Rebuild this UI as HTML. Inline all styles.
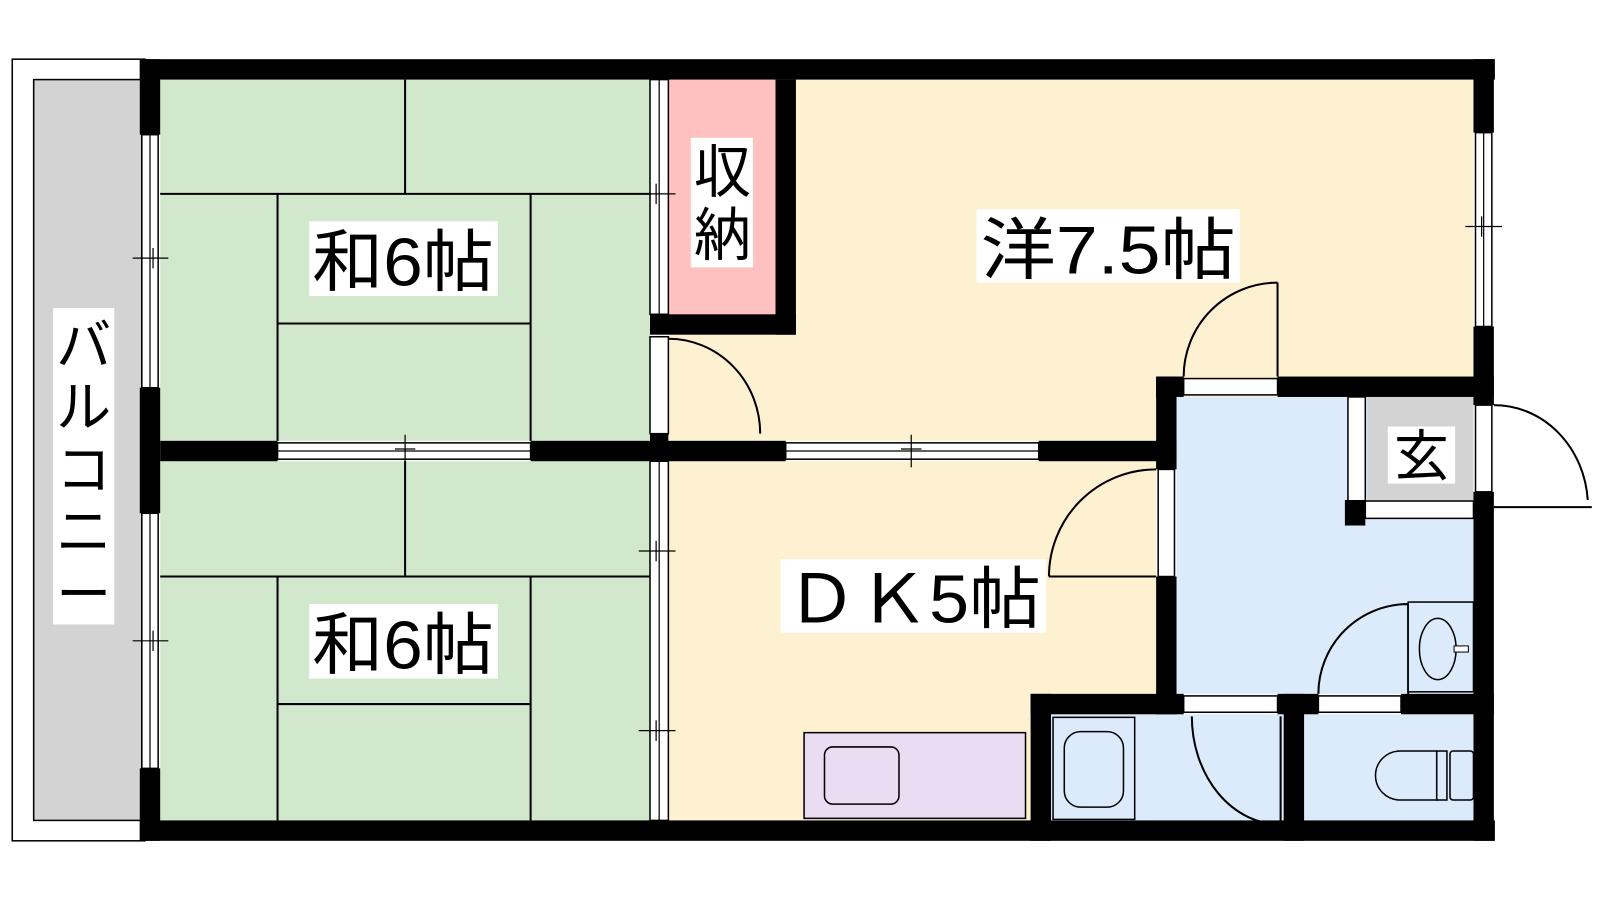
<!DOCTYPE html>
<html><head><meta charset="utf-8"><style>
html,body{margin:0;padding:0;background:#fff;}
svg{display:block;}
text{font-family:"Liberation Sans","Noto Sans CJK JP",sans-serif;fill:#000;}
</style></head><body>
<svg width="1600" height="900" viewBox="0 0 1568 882" preserveAspectRatio="none" xmlns="http://www.w3.org/2000/svg">
<!-- balcony -->
<rect x="12" y="58" width="130" height="766" fill="#fff" stroke="#000" stroke-width="1.5"/>
<rect x="33" y="78" width="106" height="726" fill="#d3d3d3" stroke="#000" stroke-width="1.5"/>
<!-- rooms -->
<rect x="157" y="78" width="480" height="354" fill="#d2e8cc"/>
<rect x="157" y="452" width="480" height="352" fill="#d2e8cc"/>
<rect x="655" y="78" width="105" height="230" fill="#ffc0c0"/>
<rect x="655" y="328" width="789" height="104" fill="#fdf1d2"/>
<rect x="780" y="78" width="664" height="291" fill="#fdf1d2"/>
<rect x="655" y="452" width="478" height="352" fill="#fdf1d2"/>
<rect x="1153" y="389" width="291" height="291" fill="#dbebfc"/>
<rect x="1030" y="700" width="228" height="104" fill="#dbebfc"/>
<rect x="1278" y="700" width="166" height="104" fill="#dbebfc"/>
<rect x="1340" y="389" width="104" height="102" fill="#d3d3d3"/>
<g fill="#fff" stroke="#000" stroke-width="1.5">
<rect x="1321" y="389" width="17" height="104"/>
<rect x="1338" y="491" width="106" height="17"/>
</g>
<!-- tatami lines -->
<g stroke="#000" stroke-width="2" fill="none">
<path d="M157 190H637M397 78V190M272 190V432M520 190V432M272 317H520"/>
<path d="M157 565H637M397 452V565M272 565V804M520 565V804M272 690H520"/>
</g>
<!-- walls -->
<g fill="#000">
<rect x="137" y="58" width="1328" height="20"/>
<rect x="137" y="804" width="1328" height="20"/>
<rect x="137" y="58" width="20" height="74"/>
<rect x="137" y="380" width="20" height="123"/>
<rect x="137" y="753" width="20" height="71"/>
<rect x="1444" y="58" width="20" height="72"/>
<rect x="1444" y="320" width="20" height="77"/>
<rect x="1444" y="482" width="20" height="342"/>
<rect x="157" y="432" width="115" height="20"/>
<rect x="520" y="432" width="250" height="20"/>
<rect x="1018" y="432" width="135" height="20"/>
<rect x="760" y="78" width="20" height="250"/>
<rect x="637" y="308" width="143" height="20"/>
<rect x="637" y="425" width="18" height="27"/>
<rect x="1133" y="369" width="20" height="91"/>
<rect x="1133" y="565" width="20" height="135"/>
<rect x="1133" y="369" width="27" height="20"/>
<rect x="1252" y="369" width="212" height="20"/>
<rect x="1010" y="680" width="150" height="20"/>
<rect x="1252" y="680" width="40" height="20"/>
<rect x="1373" y="680" width="91" height="20"/>
<rect x="1010" y="680" width="20" height="144"/>
<rect x="1258" y="680" width="20" height="144"/>
<rect x="1318" y="490" width="20" height="25"/>
</g>
<!-- windows / sliding -->
<g fill="#fff" stroke="#000" stroke-width="1.5">
<rect x="139" y="132" width="16" height="248"/>
<rect x="139" y="503" width="16" height="250"/>
<rect x="1446" y="130" width="16" height="190"/>
<rect x="1446" y="397" width="16" height="85"/>
<rect x="272" y="434" width="248" height="16"/>
<rect x="770" y="434" width="248" height="16"/>
<rect x="637" y="78" width="18" height="230"/>
<rect x="637" y="452" width="18" height="352"/>
<rect x="637" y="330" width="18" height="95"/>
<rect x="1160" y="371" width="92" height="16"/>
<rect x="1135" y="460" width="16" height="105"/>
<rect x="1160" y="682" width="92" height="16"/>
<rect x="1292" y="682" width="81" height="16"/>
</g>
<g stroke="#000" stroke-width="1.2" fill="none">
<path d="M147 132V380M147 503V753M1454 130V320M272 442H520M770 442H1018M646 78V308M646 452V804"/>
<path d="M130 253H165M150 243V263M130 628H165M150 618V638M1436 222H1472M1452 212V232"/>
<path d="M397 426V458M387 440H407M893 426V458M883 440H903M626 190H662M643 180V200M626 540H662M643 530V550M626 716H662M643 706V726"/>
</g>
<!-- doors -->
<g stroke="#000" stroke-width="2" fill="none">
<path d="M655 332A90 93 0 0 1 745 425"/>
<path d="M1252 277V369M1160 369A92 92 0 0 1 1252 277"/>
<path d="M1028 565H1133M1028 565A105 105 0 0 1 1133 460"/>
<path d="M1255 702V808M1168 702A87 106 0 0 0 1255 808"/>
<path d="M1380 592V680M1292 680A88 88 0 0 1 1380 592"/>
<path d="M1464 497H1560M1464 397A92 100 0 0 1 1556 490"/>
</g>
<!-- fixtures -->
<rect x="788" y="718" width="217" height="84" fill="#eadcf3" stroke="#000" stroke-width="1.5"/>
<rect x="808" y="732" width="73" height="56" rx="8" fill="#eadcf3" stroke="#000" stroke-width="1.5"/>
<rect x="1032" y="703" width="80" height="100" fill="#dbebfc" stroke="#000" stroke-width="1.5"/>
<rect x="1043" y="717" width="58" height="74" rx="16" fill="none" stroke="#000" stroke-width="1.5"/>
<rect x="1380" y="590" width="64" height="88" fill="#dbebfc" stroke="#000" stroke-width="1.5"/>
<ellipse cx="1409" cy="636" rx="18" ry="30" fill="none" stroke="#000" stroke-width="1.5"/>
<rect x="1425" y="633" width="14" height="6" fill="#fff" stroke="#000" stroke-width="1"/>
<path d="M1408 736H1372A24 24 0 0 0 1372 784H1408Z" fill="none" stroke="#000" stroke-width="1.5"/>
<rect x="1408" y="736" width="10" height="48" fill="none" stroke="#000" stroke-width="1.5"/>
<rect x="1421" y="736" width="23" height="48" rx="3" fill="none" stroke="#000" stroke-width="1.5"/>
<!-- labels -->
<g fill="#fff">
<rect x="303" y="217" width="185" height="73"/>
<rect x="303" y="592" width="185" height="73"/>
<rect x="677" y="135" width="61" height="127"/>
<rect x="957" y="205" width="258" height="72"/>
<rect x="765" y="548" width="260" height="72"/>
<rect x="52" y="302" width="60" height="310"/>
<rect x="1360" y="418" width="66" height="56"/>
</g>
<g font-size="66">
<text x="395" y="280" text-anchor="middle" textLength="178" lengthAdjust="spacingAndGlyphs">和6帖</text>
<text x="395" y="655" text-anchor="middle" textLength="178" lengthAdjust="spacingAndGlyphs">和6帖</text>
<text x="1086" y="268" text-anchor="middle" textLength="250" lengthAdjust="spacingAndGlyphs">洋7.5帖</text>
<text x="895" y="610" text-anchor="middle" textLength="250" lengthAdjust="spacingAndGlyphs">ＤＫ5帖</text>
</g>
<g font-size="56">
<text x="708" y="188" text-anchor="middle">収</text>
<text x="708" y="250" text-anchor="middle">納</text>
<text x="1393" y="466" text-anchor="middle" font-size="54">玄</text>
</g>
<g font-size="54" text-anchor="middle">
<text x="82" y="357">バ</text>
<text x="82" y="418">ル</text>
<text x="82" y="479">コ</text>
<text x="82" y="540">ニ</text>
<text x="82" y="601">ー</text>
</g>
</svg>
</body></html>
